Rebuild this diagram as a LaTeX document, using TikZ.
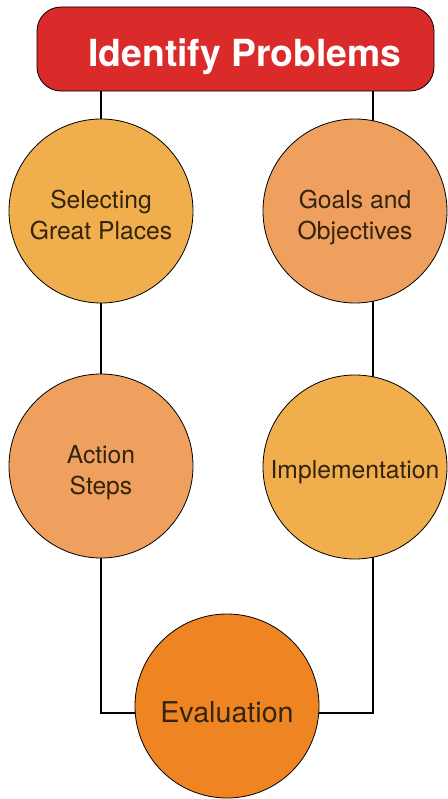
\documentclass[tikz,border=0pt]{standalone}
\usepackage{fontspec}
\setmainfont{TeX Gyre Heros}
\usetikzlibrary{backgrounds}
\definecolor{probred}{HTML}{DA2A2A}
\definecolor{stepyel}{HTML}{F0AE4C}
\definecolor{stepsal}{HTML}{EFA05E}
\definecolor{evalorg}{HTML}{EE8522}
\definecolor{txtdark}{HTML}{33240F}
\begin{document}
\begin{tikzpicture}[x=0.75pt,y=-0.75pt,
  stepnode/.style={circle, draw=black, line width=0.6pt, minimum size=138pt,
    inner sep=0pt, align=center, text=txtdark, text depth=0pt,
    font=\fontsize{18.5}{23}\selectfont},
  tworow/.style={text height=42pt},
  onerow/.style={text height=16.5pt},
  link/.style={line width=1.3pt, black}]
\useasboundingbox (0,0) rectangle (447,799);
%header
\node[draw=black, line width=0.6pt, fill=probred, rounded corners=18pt,
  minimum width=297.75pt, minimum height=63pt] (head) at (235.5,49) {};
\node[text=white, font=\bfseries\fontsize{28}{32}\selectfont] (headtxt) at (245,57) {Identify Problems};
%steps
\node[stepnode, tworow, fill=stepyel] (sel) at (101,211) {Selecting\\Great Places};
\node[stepnode, tworow, fill=stepsal] (goal) at (355,211) {Goals and\\Objectives};
\node[stepnode, tworow, fill=stepsal] (act) at (101,466) {Action\\Steps};
\node[stepnode, onerow, fill=stepyel] (impl) at (355,467) {Implementation};
\node[stepnode, fill=evalorg, text height=25pt, font=\fontsize{21.5}{26}\selectfont] (eval) at (227,706) {Evaluation};
%links
\coordinate (lft) at (101,0);
\coordinate (rgt) at (373,0);
\coordinate (bot) at (0,713);
\begin{scope}[on background layer]
\draw[link] (head.south -| lft) -- (sel.center);
\draw[link] (sel.center) -- (act.center);
\draw[link] (act.center) |- (bot -| eval);
\draw[link] (head.south -| rgt) -- (goal.center -| rgt);
\draw[link] (goal.center -| rgt) -- (impl.center -| rgt);
\draw[link] (impl.center -| rgt) |- (bot -| eval);
\end{scope}
\end{tikzpicture}
\end{document}
